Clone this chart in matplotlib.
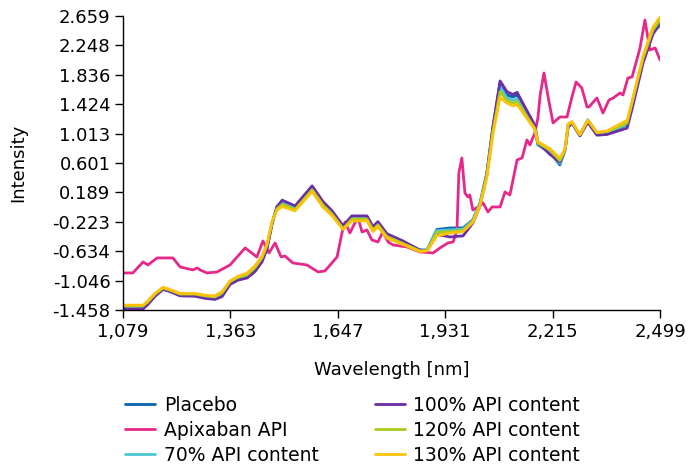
#!/usr/bin/env python3
"""NIR spectra of apixaban tablets: placebo, API and API-content levels."""

import matplotlib
matplotlib.use("Agg")
import matplotlib.pyplot as plt

# shared wavelength grid (nm) for the tablet spectra
wl = [1079, 1132, 1145, 1164, 1185, 1203, 1230, 1269, 1296, 1322,
      1341, 1362, 1383, 1407, 1428, 1447, 1460, 1473, 1486, 1500,
      1534, 1579, 1608, 1632, 1661, 1684, 1724, 1740, 1753, 1777,
      1819, 1864, 1883, 1909, 1944, 1978, 2004, 2023, 2041, 2057,
      2076, 2094, 2110, 2121, 2137, 2168, 2176, 2208, 2234, 2248,
      2256, 2266, 2287, 2308, 2332, 2359, 2412, 2427, 2454, 2480, 2499]

placebo = [-1.415, -1.415, -1.359, -1.247, -1.163, -1.191, -1.247, -1.247, -1.275, -1.289,
           -1.247, -1.079, -1.023, -0.995, -0.897, -0.757, -0.575, -0.239, -0.015, 0.055,
           -0.015, 0.265, 0.041, -0.085, -0.295, -0.155, -0.155, -0.309, -0.239, -0.407,
           -0.505, -0.617, -0.617, -0.330, -0.309, -0.309, -0.197, 0.041, 0.461, 1.105,
           1.721, 1.553, 1.525, 1.553, 1.385, 1.105, 0.853, 0.755, 0.573, 0.783,
           1.133, 1.161, 0.993, 1.203, 1.021, 1.035, 1.133, 1.483, 2.043, 2.421, 2.533]

api70 = [-1.42, -1.42, -1.36, -1.25, -1.16, -1.19, -1.245, -1.245, -1.27, -1.285,
         -1.24, -1.07, -1.015, -0.985, -0.885, -0.745, -0.565, -0.235, -0.025, 0.040,
         -0.030, 0.250, 0.030, -0.095, -0.305, -0.165, -0.165, -0.315, -0.250, -0.415,
         -0.515, -0.625, -0.620, -0.345, -0.335, -0.325, -0.205, 0.035, 0.450, 1.080,
         1.670, 1.510, 1.480, 1.500, 1.355, 1.095, 0.860, 0.760, 0.595, 0.790,
         1.135, 1.165, 0.995, 1.200, 1.020, 1.035, 1.140, 1.480, 2.040, 2.430, 2.560]

api100 = [-1.443, -1.443, -1.38, -1.265, -1.17, -1.20, -1.26, -1.265, -1.295, -1.31,
          -1.27, -1.10, -1.04, -1.01, -0.92, -0.78, -0.60, -0.26, -0.01, 0.08,
          0.00, 0.28, 0.06, -0.07, -0.28, -0.14, -0.14, -0.29, -0.22, -0.39,
          -0.49, -0.62, -0.63, -0.40, -0.435, -0.42, -0.24, 0.00, 0.44, 1.10,
          1.75, 1.60, 1.56, 1.59, 1.43, 1.13, 0.88, 0.72, 0.615, 0.80,
          1.10, 1.16, 0.98, 1.17, 0.99, 1.00, 1.09, 1.40, 2.00, 2.40, 2.575]

api120 = [-1.40, -1.40, -1.345, -1.235, -1.15, -1.18, -1.235, -1.235, -1.26, -1.275,
          -1.22, -1.06, -1.00, -0.965, -0.865, -0.725, -0.55, -0.23, -0.04, 0.02,
          -0.05, 0.225, 0.01, -0.115, -0.32, -0.185, -0.185, -0.335, -0.265, -0.43,
          -0.525, -0.63, -0.625, -0.37, -0.36, -0.345, -0.215, 0.02, 0.42, 1.04,
          1.60, 1.475, 1.44, 1.46, 1.33, 1.085, 0.88, 0.78, 0.635, 0.795,
          1.14, 1.17, 0.995, 1.20, 1.025, 1.04, 1.16, 1.49, 2.07, 2.46, 2.60]

api130 = [-1.39, -1.39, -1.33, -1.22, -1.14, -1.17, -1.225, -1.225, -1.25, -1.26,
          -1.20, -1.05, -0.985, -0.94, -0.84, -0.70, -0.53, -0.22, -0.06, -0.01,
          -0.07, 0.20, -0.02, -0.14, -0.33, -0.21, -0.21, -0.36, -0.29, -0.45,
          -0.54, -0.64, -0.63, -0.42, -0.38, -0.36, -0.23, 0.00, 0.40, 1.00,
          1.52, 1.44, 1.40, 1.42, 1.30, 1.07, 0.90, 0.80, 0.67, 0.80,
          1.15, 1.18, 1.00, 1.20, 1.03, 1.05, 1.20, 1.50, 2.10, 2.50, 2.645]

# pure API spectrum has its own grid
api_wl = [1079, 1105, 1132, 1145, 1169, 1211, 1230, 1264, 1275, 1283,
          1301, 1328, 1362, 1402, 1433, 1449, 1465, 1481, 1497, 1507,
          1528, 1565, 1595, 1613, 1645, 1658, 1666, 1679, 1700, 1711,
          1724, 1737, 1753, 1766, 1780, 1793, 1830, 1864, 1899, 1917,
          1938, 1952, 1962, 1967, 1975, 1983, 1991, 1996, 2004, 2018,
          2031, 2044, 2055, 2076, 2089, 2102, 2121, 2134, 2147, 2155,
          2168, 2176, 2182, 2192, 2203, 2216, 2234, 2253, 2266, 2277,
          2292, 2306, 2311, 2332, 2348, 2364, 2375, 2393, 2401, 2414,
          2425, 2446, 2459, 2472, 2486, 2499]
apixaban = [-0.939, -0.939, -0.785, -0.827, -0.729, -0.729, -0.855, -0.897, -0.869, -0.897,
            -0.939, -0.925, -0.827, -0.589, -0.715, -0.491, -0.659, -0.519, -0.715, -0.701,
            -0.799, -0.827, -0.925, -0.911, -0.715, -0.379, -0.225, -0.379, -0.155, -0.365,
            -0.337, -0.477, -0.505, -0.365, -0.505, -0.547, -0.575, -0.645, -0.659, -0.589,
            -0.519, -0.505, -0.337, 0.461, 0.671, 0.181, 0.125, 0.153, -0.057, -0.015,
            0.041, -0.085, -0.015, -0.015, 0.195, 0.153, 0.643, 0.671, 0.923, 0.853,
            1.021, 1.231, 1.553, 1.861, 1.525, 1.161, 1.245, 1.245, 1.525, 1.735,
            1.651, 1.385, 1.385, 1.511, 1.301, 1.483, 1.511, 1.581, 1.553, 1.791,
            1.805, 2.211, 2.603, 2.183, 2.211, 2.043]

x_ticks = [1079, 1363, 1647, 1931, 2215, 2499]
y_ticks = [-1.458, -1.046, -0.634, -0.223, 0.189, 0.601, 1.013, 1.424, 1.836, 2.248, 2.659]

FS = 13


def main():
    plt.rcParams["font.family"] = ["DejaVu Sans"]
    fig = plt.figure(figsize=(6.89, 4.65), dpi=100)
    ax = fig.add_axes([0.1785, 0.3333, 0.7795, 0.6323])

    series = [
        (wl, placebo, "Placebo", "#0b63ae"),
        (api_wl, apixaban, "Apixaban API", "#e6288a"),
        (wl, api70, "70% API content", "#4dc6d4"),
        (wl, api100, "100% API content", "#6a2ea6"),
        (wl, api120, "120% API content", "#a8cc1c"),
        (wl, api130, "130% API content", "#fcc20a"),
    ]
    for x, y, name, color in series:
        ax.plot(x, y, color=color, lw=2.0, label=name,
                solid_joinstyle="round", solid_capstyle="round")

    ax.set_xlim(1079, 2499)
    ax.set_ylim(-1.458, 2.659)
    ax.set_xticks(x_ticks)
    ax.set_xticklabels([f"{v:,}" for v in x_ticks], fontsize=FS)
    ax.set_yticks(y_ticks)
    ax.set_yticklabels([f"{v:.3f}" for v in y_ticks], fontsize=FS)
    ax.tick_params(direction="out", length=6, width=1, color="black", pad=3)
    for side in ("top", "right"):
        ax.spines[side].set_visible(False)
    for side in ("left", "bottom"):
        ax.spines[side].set_color("black")
        ax.spines[side].set_linewidth(1)

    ax.set_xlabel("Wavelength [nm]", fontsize=FS, labelpad=15)
    ax.set_ylabel("Intensity", fontsize=FS, labelpad=18)

    fig.legend(loc="center", bbox_to_anchor=(0.512, 0.0745), ncol=2, frameon=False,
               fontsize=13.5, handlelength=1.6, handletextpad=0.45,
               columnspacing=3.0, labelspacing=0.33, borderpad=0.2)

    fig.savefig("out.png", dpi=100)


if __name__ == "__main__":
    main()
